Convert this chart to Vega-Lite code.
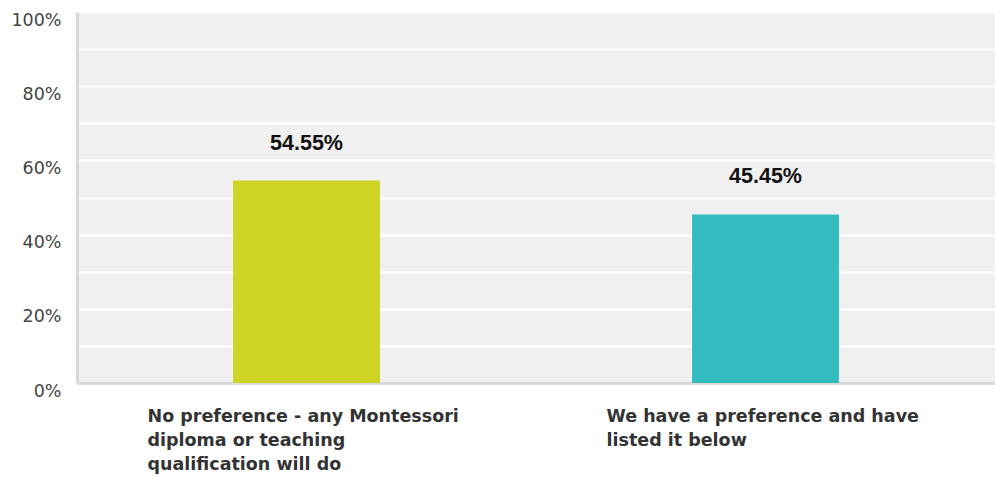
{
  "$schema": "https://vega.github.io/schema/vega-lite/v6.json",
  "width": 918,
  "height": 371,
  "autosize": {"type": "none"},
  "padding": {"left": 77, "top": 12, "right": 0, "bottom": 94},
  "background": "#ffffff",
  "config": {
    "view": {"fill": "#f0f0f0", "stroke": null}
  },
  "data": {
    "values": [
      {"answer": "No preference - any Montessori diploma or teaching qualification will do", "share": 0.5455},
      {"answer": "We have a preference and have listed it below", "share": 0.4545}
    ]
  },
  "encoding": {
    "x": {
      "field": "answer",
      "type": "nominal",
      "sort": null,
      "scale": {"paddingInner": 0.68, "paddingOuter": 0.34},
      "axis": {
        "title": null,
        "labelAngle": 0,
        "labelAlign": "left",
        "labelBaseline": "top",
        "labelOffset": -159,
        "labelPadding": 24,
        "labelLineHeight": 24,
        "labelLimit": 500,
        "labelFont": "DejaVu Sans",
        "labelFontWeight": "bold",
        "labelFontSize": 17.5,
        "labelColor": "#333333",
        "ticks": false,
        "domain": true,
        "domainColor": "#d9d9d9",
        "domainWidth": 3,
        "labelExpr": "datum.value === 'We have a preference and have listed it below' ? ['We have a preference and have', 'listed it below'] : ['No preference - any Montessori', 'diploma or teaching', 'qualification will do']"
      }
    },
    "y": {
      "field": "share",
      "type": "quantitative",
      "scale": {"domain": [0, 1], "nice": false},
      "axis": {
        "title": null,
        "values": [0, 0.1, 0.2, 0.3, 0.4, 0.5, 0.6, 0.7, 0.8, 0.9, 1],
        "format": ".0%",
        "labelExpr": "round(datum.value * 10) % 2 === 0 ? datum.label : ''",
        "labelFont": "DejaVu Sans",
        "labelFontSize": 17.5,
        "labelColor": "#444444",
        "labelPadding": 16,
        "labelBaseline": "middle",
        "labelOffset": 8,
        "ticks": false,
        "domain": true,
        "domainColor": "#d9d9d9",
        "domainWidth": 3,
        "grid": true,
        "gridColor": "#ffffff",
        "gridWidth": 2,
        "gridOpacity": 1
      }
    }
  },
  "layer": [
    {
      "mark": {"type": "bar"},
      "encoding": {
        "color": {
          "field": "answer",
          "type": "nominal",
          "legend": null,
          "scale": {
            "domain": ["No preference - any Montessori diploma or teaching qualification will do", "We have a preference and have listed it below"],
            "range": ["#cdd424", "#33bcbf"]
          }
        }
      }
    },
    {
      "mark": {
        "type": "text",
        "baseline": "bottom",
        "dy": -26,
        "font": "Liberation Sans",
        "fontWeight": "bold",
        "fontSize": 21.5,
        "color": "#111111"
      },
      "encoding": {
        "text": {"field": "share", "type": "quantitative", "format": ".2%"}
      }
    }
  ]
}
